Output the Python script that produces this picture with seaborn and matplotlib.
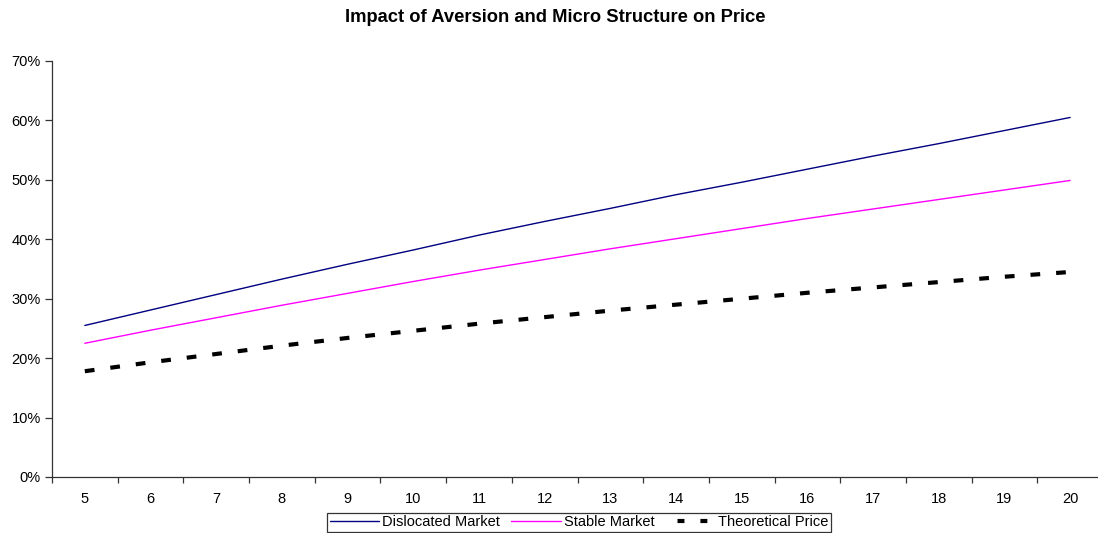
import matplotlib
matplotlib.use("Agg")
import matplotlib.pyplot as plt
import matplotlib.ticker as mticker
import numpy as np
import pandas as pd
import seaborn as sns

# Horizon (categories on the x axis)
horizon = [5, 6, 7, 8, 9, 10, 11, 12, 13, 14, 15, 16, 17, 18, 19, 20]

# Price levels, in percent
dislocated = [25.5, 28.1, 30.7, 33.3, 35.8, 38.2, 40.7, 43.0, 45.2, 47.5,
              49.6, 51.8, 54.0, 56.1, 58.3, 60.5]
stable = [22.5, 24.7, 26.8, 28.9, 30.9, 32.9, 34.8, 36.6, 38.4, 40.1,
          41.8, 43.5, 45.1, 46.7, 48.3, 49.9]
theoretical = [17.8, 19.3, 20.7, 22.1, 23.4, 24.6, 25.8, 26.9, 28.0, 29.0,
               30.0, 31.0, 31.9, 32.8, 33.7, 34.5]

series_names = ["Dislocated Market", "Stable Market", "Theoretical Price"]
y_ticks = [0, 10, 20, 30, 40, 50, 60, 70]

sns.set_theme(style="white")
plt.rcParams["font.family"] = ["Liberation Sans", "DejaVu Sans"]
plt.rcParams["lines.scale_dashes"] = False
plt.rcParams["text.color"] = "#000000"
plt.rcParams["xtick.color"] = "#000000"
plt.rcParams["ytick.color"] = "#000000"

df = pd.DataFrame({
    "horizon": horizon * 3,
    "value": dislocated + stable + theoretical,
    "series": [series_names[0]] * len(horizon)
              + [series_names[1]] * len(horizon)
              + [series_names[2]] * len(horizon),
})

fig = plt.figure(figsize=(10.98, 5.33), dpi=100)
ax = fig.add_axes([52 / 1098, 1 - 477 / 533, (1103 - 52) / 1098, (477 - 61) / 533])

palette = {series_names[0]: "#000080", series_names[1]: "#FF00FF",
           series_names[2]: "#000000"}
sizes = {series_names[0]: 1.0, series_names[1]: 1.0, series_names[2]: 3.0}
dashes = {series_names[0]: "", series_names[1]: "", series_names[2]: (7.0, 11.5)}

sns.lineplot(data=df, x="horizon", y="value", hue="series", style="series",
             size="series", palette=palette, sizes=sizes, dashes=dashes,
             hue_order=series_names, style_order=series_names,
             size_order=series_names, ax=ax, legend=False)

ax.set_xlim(horizon[0] - 0.5, horizon[-1] + 0.5)
ax.set_ylim(0, 70)
ax.set_xticks(horizon)
ax.set_xticklabels([str(h) for h in horizon])
ax.xaxis.set_minor_locator(mticker.FixedLocator(np.arange(horizon[0] - 0.5, horizon[-1] + 1.0, 1.0)))
ax.set_yticks(y_ticks)
ax.set_yticklabels([f"{v}%" for v in y_ticks])
ax.set_xlabel("")
ax.set_ylabel("")

for side in ["top", "right"]:
    ax.spines[side].set_visible(False)
for side in ["left", "bottom"]:
    ax.spines[side].set_color("#333333")
    ax.spines[side].set_linewidth(0.9)

tick_size = 10.5
ax.tick_params(axis="x", which="major", length=0, labelsize=tick_size, pad=11, labelcolor="#000000")
ax.tick_params(axis="x", which="minor", length=4, width=0.9, color="#333333", direction="out", bottom=True)
ax.tick_params(axis="y", which="major", length=5, width=0.9, color="#333333", direction="out",
               left=True, labelsize=tick_size, pad=3, labelcolor="#000000")
ax.grid(False)

fig.text(555 / 1098, 1 - 18 / 533, "Impact of Aversion and Micro Structure on Price",
         ha="center", va="center", fontsize=13.2, fontweight="bold", color="#000000")

handles = [
    plt.Line2D([], [], color="#000080", lw=1.0),
    plt.Line2D([], [], color="#FF00FF", lw=1.0),
    plt.Line2D([], [], color="#000000", lw=3.0, linestyle=(7.5, (5.0, 11.5))),
]
leg = fig.legend(handles, series_names, loc="center", bbox_to_anchor=(579 / 1098, 1 - 522.5 / 533),
                 ncol=3, frameon=True, fancybox=False, fontsize=tick_size, handlelength=3.4,
                 handletextpad=0.2, columnspacing=0.75, borderpad=0.2, borderaxespad=0)
leg.get_frame().set_edgecolor("#000000")
leg.get_frame().set_linewidth(0.9)
for t in leg.get_texts():
    t.set_color("#000000")

fig.savefig("out.png", dpi=100)
